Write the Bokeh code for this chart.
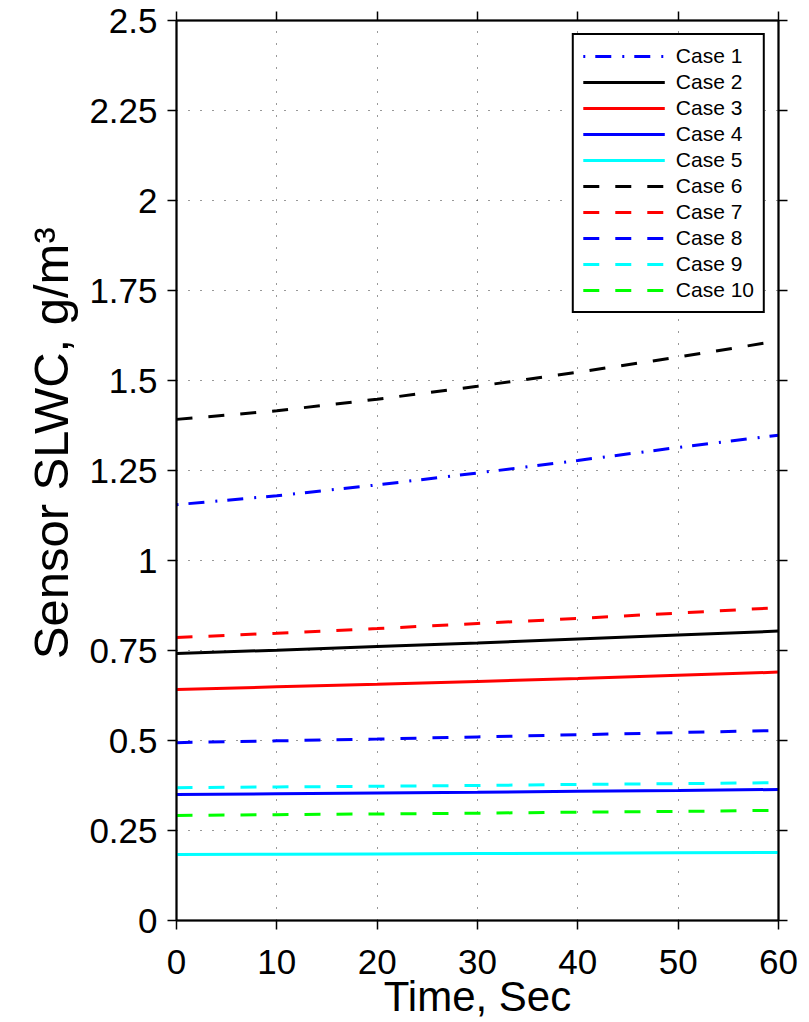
from bokeh.plotting import figure
from bokeh.models import Range1d, LinearAxis, FixedTicker
from bokeh.embed import file_html
from bokeh.resources import INLINE

# ---- data ----
time_s = [0, 10, 20, 30, 40, 50, 60]
case1 = [1.155, 1.180, 1.210, 1.243, 1.278, 1.314, 1.348]
case2 = [0.742, 0.751, 0.761, 0.771, 0.782, 0.793, 0.804]
case3 = [0.642, 0.649, 0.656, 0.664, 0.672, 0.681, 0.690]
case4 = [0.350, 0.352, 0.354, 0.356, 0.359, 0.361, 0.364]
case5 = [0.183, 0.184, 0.185, 0.186, 0.187, 0.188, 0.189]
case6 = [1.392, 1.416, 1.448, 1.484, 1.523, 1.565, 1.610]
case7 = [0.786, 0.798, 0.811, 0.825, 0.839, 0.854, 0.869]
case8 = [0.494, 0.499, 0.504, 0.510, 0.516, 0.522, 0.528]
case9 = [0.369, 0.371, 0.373, 0.375, 0.378, 0.380, 0.383]
case10 = [0.292, 0.294, 0.296, 0.298, 0.301, 0.303, 0.306]

case_names = ["Case 1", "Case 2", "Case 3", "Case 4", "Case 5",
              "Case 6", "Case 7", "Case 8", "Case 9", "Case 10"]
case_values = [case1, case2, case3, case4, case5, case6, case7, case8, case9, case10]

x_ticks = [0, 10, 20, 30, 40, 50, 60]
y_ticks = [0, 0.25, 0.5, 0.75, 1, 1.25, 1.5, 1.75, 2, 2.25, 2.5]
y_tick_labels = ["0", "0.25", "0.5", "0.75", "1", "1.25", "1.5", "1.75", "2", "2.25", "2.5"]

x_label = "Time, Sec"
y_label = "Sensor SLWC, g/m\u00b3"

# ---- styles ----
colors = ["#0000ff", "#000000", "#ff0000", "#0000ff", "#00ffff",
          "#000000", "#ff0000", "#0000ff", "#00ffff", "#00ff00"]
dashes = ["2 10 16 11", "solid", "solid", "solid", "solid",
          "16 16", "16 16", "16 16", "16 16", "16 16"]

FONT = "Liberation Sans"

p = figure(width=803, height=1022, output_backend="svg", toolbar_location=None,
           x_range=Range1d(0, 60), y_range=Range1d(0, 2.5),
           min_border_left=176, min_border_right=25, min_border_top=20,
           min_border_bottom=102)

for name, vals, c, d in zip(case_names, case_values, colors, dashes):
    p.line(time_s, vals, line_color=c, line_width=3, line_dash=d, legend_label=name)

xt = FixedTicker(ticks=x_ticks)
yt = FixedTicker(ticks=y_ticks)

def style_axis(ax, ticker):
    ax.ticker = ticker
    ax.axis_line_color = "black"
    ax.axis_line_width = 2
    ax.major_tick_line_color = "black"
    ax.major_tick_line_width = 1.5
    ax.major_tick_in = 0
    ax.major_tick_out = 9
    ax.minor_tick_line_color = None
    ax.major_label_text_font = FONT
    ax.major_label_text_font_size = "35px"
    ax.major_label_text_color = "black"
    ax.axis_label_text_font = FONT
    ax.axis_label_text_font_style = "normal"
    ax.axis_label_text_color = "black"

xa = p.xaxis[0]
style_axis(xa, xt)
xa.axis_label = x_label
xa.axis_label_text_font_size = "42px"
xa.axis_label_text_line_height = 0.8
xa.major_label_text_line_height = 0.8
xa.major_label_standoff = 20
xa.axis_label_standoff = -4

ya = p.yaxis[0]
style_axis(ya, yt)
ya.axis_label = "\u00a0" * 4 + y_label
ya.axis_label_text_font_size = "49px"
ya.major_label_overrides = {t: l for t, l in zip(y_ticks, y_tick_labels)}
ya.major_label_standoff = 10
ya.axis_label_standoff = 8

top_ax = LinearAxis()
style_axis(top_ax, xt)
top_ax.major_label_text_font_size = "0px"
top_ax.major_label_overrides = {t: "" for t in x_ticks}
top_ax.major_label_standoff = 0
p.add_layout(top_ax, "above")

right_ax = LinearAxis()
style_axis(right_ax, yt)
right_ax.major_label_text_font_size = "0px"
right_ax.major_label_overrides = {t: "" for t in y_ticks}
right_ax.major_label_standoff = 0
p.add_layout(right_ax, "right")

p.xgrid.ticker = xt
p.ygrid.ticker = yt
for g in (p.xgrid[0], p.ygrid[0]):
    g.grid_line_color = "#333333"
    g.grid_line_width = 1
    g.grid_line_dash = "1 11"

p.outline_line_color = "black"
p.outline_line_width = 1.5

lg = p.legend[0]
lg.location = "top_right"
lg.margin = 13
lg.padding = 9
lg.spacing = 2
lg.border_line_color = "black"
lg.border_line_alpha = 1
lg.border_line_width = 2
lg.background_fill_color = "white"
lg.background_fill_alpha = 1
lg.label_text_font = FONT
lg.label_text_font_size = "21px"
lg.label_text_color = "black"
lg.glyph_width = 82
lg.glyph_height = 20
lg.label_height = 20
lg.label_standoff = 11

open("out.html", "w").write(file_html(p, INLINE))
